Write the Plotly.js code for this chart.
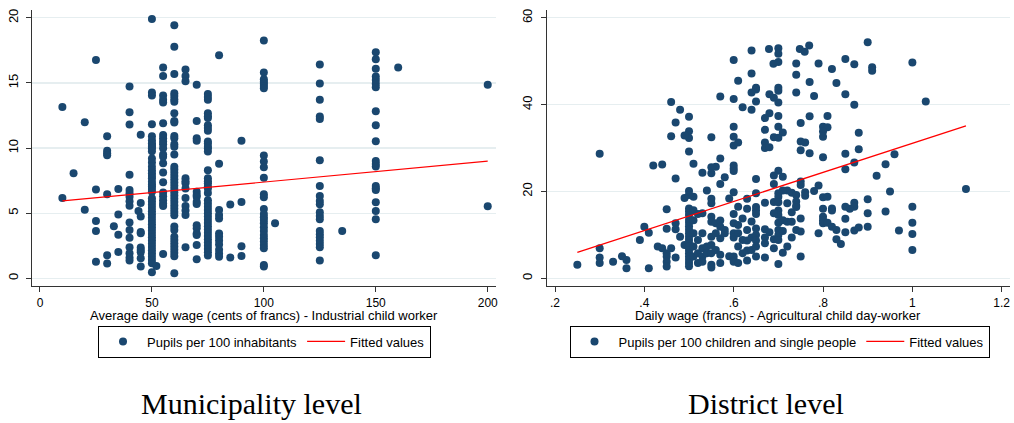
<!DOCTYPE html>
<html>
<head>
<meta charset="utf-8">
<script src="https://cdn.plot.ly/plotly-3.0.1.min.js"></script>
<style>html,body{margin:0;padding:0;background:#fff;}#chart{width:1014px;height:423px;}</style>
</head>
<body>
<div id="chart"></div>
<script>
// ---------- Municipality level ----------
const muniWageLevels = [10, 15, 20, 25, 30, 33, 35, 40, 44, 45, 50, 52, 55, 60, 65, 70, 75, 80, 85, 90, 100, 105, 125, 135, 150, 160, 200];
const muniPupilsAtLevel = [
  [13.16, 6.17],
  [8.06],
  [11.98, 5.27],
  [16.77, 6.81, 4.40, 3.64, 1.28],
  [10.9, 9.8, 9.6, 9.45, 6.45, 1.77, 1.13],
  [3.99],
  [6.86, 4.89, 3.35, 2.02],
  [14.72, 12.75, 11.8, 7.96, 6.78, 6.53, 6.27, 5.91, 5.58, 4.28, 3.71, 3.12, 2.38, 1.92, 1.59, 1.36],
  [5.17],
  [11.03, 5.79, 4.74, 3.56, 3.46, 2.36, 2.18, 2.0, 1.54, 0.9],
  [19.9, 14.26, 14.03, 11.83, 10.9, 10.6, 10.37, 10.24, 10.1, 9.98, 9.75, 9.2, 8.9, 8.57, 8.3, 8.06, 7.85, 7.68, 7.42, 7.2, 7.04, 6.85, 6.65, 6.14, 5.9, 5.65, 5.4, 5.15, 4.9, 4.65, 4.4, 4.15, 3.9, 3.65, 3.4, 3.15, 2.9, 2.65, 2.4, 2.15, 1.9, 1.65, 1.4, 1.15, 0.46],
  [0.95],
  [16.18, 15.54, 14.03, 13.7, 13.49, 11.9, 11.0, 10.75, 10.5, 10.3, 9.98, 9.5, 9.34, 8.83, 8.12, 7.37, 6.58, 6.3, 6.0, 5.74, 5.55, 1.87],
  [19.43, 17.77, 15.69, 14.2, 14.0, 13.75, 13.55, 12.67, 12.08, 11.96, 10.93, 10.75, 10.3, 10.1, 9.5, 8.57, 8.35, 8.1, 7.85, 7.6, 7.35, 7.1, 6.85, 6.6, 6.35, 6.1, 5.85, 5.6, 5.35, 5.1, 4.85, 3.97, 3.7, 3.2, 2.95, 2.7, 2.45, 2.2, 1.95, 1.7, 0.38],
  [16.03, 15.54, 15.13, 7.68, 7.45, 7.29, 6.9, 6.17, 5.55, 5.2, 4.86, 2.38],
  [14.87, 12.08, 10.75, 10.57, 6.65, 6.4, 6.27, 5.88, 5.7, 4.07, 3.84, 3.45, 3.33, 2.56, 1.46],
  [14.16, 13.93, 13.7, 12.67, 12.45, 12.3, 11.75, 11.55, 11.32, 10.5, 10.36, 10.1, 9.98, 9.73, 8.3, 7.68, 7.45, 7.29, 7.05, 6.9, 6.55, 6.0, 5.75, 5.5, 5.25, 5.0, 4.75, 4.5, 4.25, 4.0, 3.75, 3.5, 3.25, 3.0, 2.75, 2.5, 2.25, 2.0, 1.75],
  [17.13, 8.8, 5.25, 4.86, 4.6, 3.45, 3.2, 2.9, 2.6, 2.2, 1.9, 1.66],
  [5.66, 1.6],
  [10.57, 5.86, 2.46, 1.72],
  [18.25, 15.8, 15.28, 15.1, 14.93, 14.77, 14.6, 9.42, 8.96, 8.53, 7.73, 6.45, 6.22, 5.33, 4.94, 4.69, 4.48, 4.22, 3.92, 3.64, 3.33, 3.07, 2.82, 2.56, 2.3, 1.02, 0.9],
  [4.22],
  [16.41, 14.95, 13.7, 12.42, 12.24, 9.06, 7.09, 6.32, 5.94, 5.68, 5.07, 4.79, 4.53, 3.64, 3.38, 3.15, 2.89, 2.64, 2.38, 1.36],
  [3.64],
  [17.36, 16.82, 16.08, 15.49, 15.23, 14.93, 14.67, 12.83, 11.75, 10.52, 9.01, 8.78, 8.58, 7.09, 6.91, 6.78, 5.84, 5.17, 4.53, 1.77],
  [16.18],
  [14.87, 5.53]
];
const muniFitWage = [10, 200];
const muniFitPupils = [5.95, 8.99];

// ---------- District level ----------
const distWage = [
  0.90, 0.769, 0.748, 0.759, 0.679, 0.70, 0.70, 0.64, 0.60, 0.70, 0.689, 0.74, 0.79, 0.85, 0.87, 0.91, 0.91, 1.0, 0.82, 0.64,
  0.74, 0.77, 0.61, 0.83, 0.65, 0.65, 0.64, 0.70, 0.70, 0.74, 0.68, 0.69, 0.57, 0.60, 0.78, 0.85, 0.65, 0.70, 0.46, 0.87,
  1.03, 0.62, 0.64, 0.48, 0.68, 0.70, 0.77, 0.81, 0.50, 0.67, 0.75, 0.47, 0.80, 0.81, 0.80, 0.60, 0.70, 0.67, 0.71, 0.88,
  0.50, 0.50, 0.46, 0.49, 0.55, 0.60, 0.69, 0.70, 0.80, 0.61, 0.60, 0.67, 0.67, 0.68, 0.75, 0.76, 0.75, 0.77, 0.85, 0.88,
  0.96, 0.50, 0.80, 0.57, 0.87, 0.94, 0.42, 0.44, 0.51, 0.56, 0.55, 0.60, 0.60, 0.60, 0.85, 0.53, 0.55, 0.70, 0.71, 0.58,
  0.47, 0.92, 0.65, 0.69, 0.75, 0.75, 0.69, 0.57, 0.79, 0.30,
  0.76, 0.76, 0.78, 0.95, 1.12, 0.54, 0.50, 0.50, 0.60, 0.65, 0.72, 0.73, 0.71, 0.70, 0.70, 0.74, 0.49, 0.51, 0.55, 0.55,
  0.59, 0.63, 0.80, 0.81, 0.90, 0.72, 0.74, 0.74, 0.67, 0.69, 0.70, 0.87, 0.87, 0.82, 0.82, 0.80, 0.85, 0.86, 1.0, 0.45,
  0.50, 0.50, 0.50, 0.51, 0.53, 0.61, 0.63, 0.65, 0.65, 0.65, 0.70, 0.70, 0.69, 0.73, 0.60, 0.90, 0.94, 0.74, 0.52,
  0.25, 0.30, 0.30, 0.30, 0.33, 0.35, 0.36, 0.36, 0.39, 0.40, 0.41, 0.41, 0.43, 0.44, 0.45, 0.45, 0.45, 0.45, 0.45, 0.46,
  0.47, 0.47, 0.47, 0.48, 0.49, 0.50, 0.50, 0.50, 0.50, 0.50, 0.50, 0.50, 0.50, 0.50, 0.50, 0.50, 0.50, 0.50, 0.50, 0.50,
  0.51, 0.51, 0.51, 0.51, 0.52, 0.52, 0.52, 0.53, 0.53, 0.53, 0.53, 0.54, 0.54, 0.55, 0.55, 0.55, 0.55, 0.55, 0.55, 0.55,
  0.56, 0.56, 0.56, 0.57, 0.57, 0.57, 0.57, 0.57, 0.58, 0.58, 0.59, 0.60, 0.60, 0.60, 0.60, 0.60, 0.60, 0.61, 0.61, 0.61,
  0.61, 0.62, 0.62, 0.62, 0.63, 0.63, 0.63, 0.63, 0.64, 0.64, 0.64, 0.65, 0.65, 0.65, 0.65, 0.65, 0.67, 0.67, 0.67, 0.67,
  0.68, 0.69, 0.69, 0.70, 0.70, 0.70, 0.70, 0.70, 0.71, 0.71, 0.71, 0.72, 0.72, 0.73, 0.73, 0.74, 0.75, 0.75, 0.75, 0.79,
  0.80, 0.80, 0.80, 0.81, 0.82, 0.83, 0.83, 0.84, 0.85, 0.85, 0.87, 0.88, 0.90, 0.97, 1.0, 1.0, 1.0
];
const distPupils = [
  54.4, 53.6, 52.8, 52.2, 52.8, 53.0, 51.7, 52.5, 50.3, 49.8, 49.4, 49.5, 49.5, 50.5, 49.3, 48.6, 47.8, 49.7, 48.2, 47.2,
  46.9, 45.2, 45.5, 45.0, 43.9, 43.5, 42.8, 43.9, 43.2, 42.8, 42.4, 41.6, 41.9, 41.3, 42.0, 42.4, 40.7, 40.5, 40.6, 40.0,
  40.7, 39.4, 38.8, 38.8, 38.0, 37.4, 37.3, 37.4, 37.2, 36.9, 35.8, 35.9, 34.9, 34.8, 33.8, 34.9, 34.9, 34.2, 33.6, 33.5,
  33.9, 32.3, 32.7, 32.9, 32.5, 32.6, 32.5, 32.4, 32.6, 31.3, 30.6, 31.3, 30.0, 30.2, 31.5, 31.3, 29.5, 28.8, 28.7, 29.7,
  28.6, 29.2, 27.9, 27.6, 26.7, 26.3, 26.0, 26.2, 26.4, 25.7, 25.6, 26.0, 25.3, 24.7, 25.1, 24.3, 24.2, 24.8, 23.4, 23.3,
  23.0, 23.6, 22.9, 23.7, 22.3, 21.5, 21.7, 21.7, 21.4, 28.7,
  19.8, 19.0, 20.1, 20.0, 20.6, 20.2, 20.1, 19.2, 19.8, 19.6, 20.2, 19.7, 20.2, 19.6, 18.8, 19.2, 18.5, 18.8, 18.3, 17.3,
  18.4, 18.3, 18.7, 18.8, 18.2, 17.3, 17.7, 16.7, 17.4, 17.6, 17.5, 17.4, 16.5, 16.1, 15.6, 16.0, 16.5, 16.0, 16.5, 15.9,
  16.1, 15.4, 14.6, 15.7, 15.0, 16.5, 16.0, 16.4, 15.6, 14.8, 15.6, 14.6, 15.0, 15.2, 14.8, 15.0, 15.4, 16.4, 14.8,
  3.1, 6.9, 4.8, 3.5, 3.8, 5.1, 4.2, 2.3, 8.8, 11.9, 10.5, 2.3, 7.3, 6.9, 11.4, 5.8, 5.0, 3.8, 2.7, 6.9,
  12.7, 11.3, 4.8, 9.6, 7.7, 13.5, 12.8, 12.0, 11.2, 10.4, 9.6, 8.8, 8.0, 7.3, 6.5, 5.8, 5.0, 4.3, 3.5, 2.8,
  13.4, 10.4, 7.3, 5.0, 8.8, 5.8, 3.5, 10.4, 6.9, 5.0, 3.8, 7.3, 5.8, 14.2, 13.0, 9.6, 7.7, 5.8, 3.1, 2.5,
  12.7, 10.4, 6.5, 13.3, 11.9, 9.2, 5.4, 3.5, 11.1, 10.4, 5.1, 12.7, 10.4, 9.4, 5.0, 4.2, 3.8, 12.3, 10.4, 7.3,
  3.5, 13.8, 8.8, 5.8, 11.1, 8.7, 6.4, 4.1, 13.1, 9.4, 6.5, 11.5, 10.0, 8.7, 7.3, 5.0, 11.3, 9.4, 8.1, 4.8,
  10.6, 9.0, 6.9, 12.8, 11.1, 10.0, 8.8, 3.3, 13.4, 10.9, 5.9, 13.0, 7.3, 13.0, 9.4, 11.1, 13.8, 10.8, 5.0, 10.4,
  14.2, 13.4, 12.7, 12.8, 11.9, 11.1, 9.0, 7.9, 13.7, 10.6, 11.0, 11.7, 11.9, 11.0, 12.8, 10.2, 6.5
];
const distFitWage = [0.25, 1.12];
const distFitPupils = [5.99, 35.1];

// ---------- axis ticks and texts ----------
const muniXTicks = [0, 50, 100, 150, 200];
const muniYTicks = [0, 5, 10, 15, 20];
const distXTicks = [0.2, 0.4, 0.6, 0.8, 1.0, 1.2];
const distXTickLabels = ['.2', '.4', '.6', '.8', '1', '1.2'];
const distYTicks = [0, 20, 40, 60];
const muniXTitle = 'Average daily wage (cents of francs) - Industrial child worker';
const distXTitle = 'Daily wage (francs) - Agricultural child day-worker';

const muniX = [], muniY = [];
muniWageLevels.forEach((w, i) => muniPupilsAtLevel[i].forEach(p => { muniX.push(w); muniY.push(p); }));

const NAVY = '#1a476f';
const FONT = 'Liberation Sans, Arial, sans-serif';
const W = 1014, H = 423;
const px = v => v / W, py = v => 1 - v / H;

const traces = [
  {x: muniX, y: muniY, type: 'scatter', mode: 'markers', name: 'Pupils per 100 inhabitants',
   marker: {color: NAVY, size: 8}, xaxis: 'x', yaxis: 'y', legend: 'legend'},
  {x: muniFitWage, y: muniFitPupils, type: 'scatter', mode: 'lines', name: 'Fitted values',
   line: {color: '#ff0000', width: 1.2}, xaxis: 'x', yaxis: 'y', legend: 'legend'},
  {x: distWage, y: distPupils, type: 'scatter', mode: 'markers', name: 'Pupils per 100 children and single people',
   marker: {color: NAVY, size: 8}, xaxis: 'x2', yaxis: 'y2', legend: 'legend2'},
  {x: distFitWage, y: distFitPupils, type: 'scatter', mode: 'lines', name: 'Fitted values',
   line: {color: '#ff0000', width: 1.2}, xaxis: 'x2', yaxis: 'y2', legend: 'legend2'}
];

const xCommon = {ticks: 'outside', ticklen: 5, tickcolor: '#333', showline: true, linecolor: '#333', linewidth: 1.2,
  showgrid: false, zeroline: false, tickfont: {family: FONT, size: 12, color: '#000'}};
const yCommon = Object.assign({}, xCommon, {showgrid: true, gridcolor: '#e6eef0', gridwidth: 1.2, tickangle: -90, ticklabelstandoff: 3,
  tickfont: {family: FONT, size: 13, color: '#000'}});

const legCommon = {orientation: 'h', xanchor: 'center', yanchor: 'middle', bordercolor: '#000', borderwidth: 1,
  bgcolor: '#fff', font: {family: FONT, size: 13, color: '#000'}, itemwidth: 38};

const layout = {
  width: W, height: H, margin: {l: 0, r: 0, t: 0, b: 0},
  paper_bgcolor: '#fff', plot_bgcolor: '#fff', showlegend: true,
  xaxis: Object.assign({}, xCommon, {domain: [px(32), px(496)], range: [-3.57, 203.7], tickvals: muniXTicks, anchor: 'y'}),
  yaxis: Object.assign({}, yCommon, {domain: [1 - 286 / H, 1 - 10 / H], range: [-0.59, 20.6], tickvals: muniYTicks, anchor: 'x'}),
  xaxis2: Object.assign({}, xCommon, {domain: [px(546.7), px(1010)], range: [0.1814, 1.2186], tickvals: distXTicks, ticktext: distXTickLabels, anchor: 'y2'}),
  yaxis2: Object.assign({}, yCommon, {domain: [1 - 286 / H, 1 - 10 / H], range: [-1.77, 61.8], tickvals: distYTicks, anchor: 'x2'}),
  legend: Object.assign({}, legCommon, {x: px(264.5), y: py(341.5)}),
  legend2: Object.assign({}, legCommon, {x: px(779.5), y: py(341.5)}),
  annotations: [
    {text: muniXTitle, xref: 'paper', yref: 'paper', x: px(264), y: py(315), showarrow: false, borderpad: 0,
     xanchor: 'center', yanchor: 'middle', font: {family: FONT, size: 13, color: '#000'}},
    {text: distXTitle, xref: 'paper', yref: 'paper', x: px(778.3), y: py(315), showarrow: false, borderpad: 0,
     xanchor: 'center', yanchor: 'middle', font: {family: FONT, size: 13, color: '#000'}},
    {text: 'Municipality level', xref: 'paper', yref: 'paper', x: px(251), y: py(403), showarrow: false,
     xanchor: 'center', yanchor: 'middle', font: {family: 'Liberation Serif, serif', size: 30, color: '#000'}},
    {text: 'District level', xref: 'paper', yref: 'paper', x: px(766), y: py(403), showarrow: false,
     xanchor: 'center', yanchor: 'middle', font: {family: 'Liberation Serif, serif', size: 30, color: '#000'}}
  ]
};

Plotly.newPlot('chart', traces, layout, {displayModeBar: false, staticPlot: true});
</script>
</body>
</html>
